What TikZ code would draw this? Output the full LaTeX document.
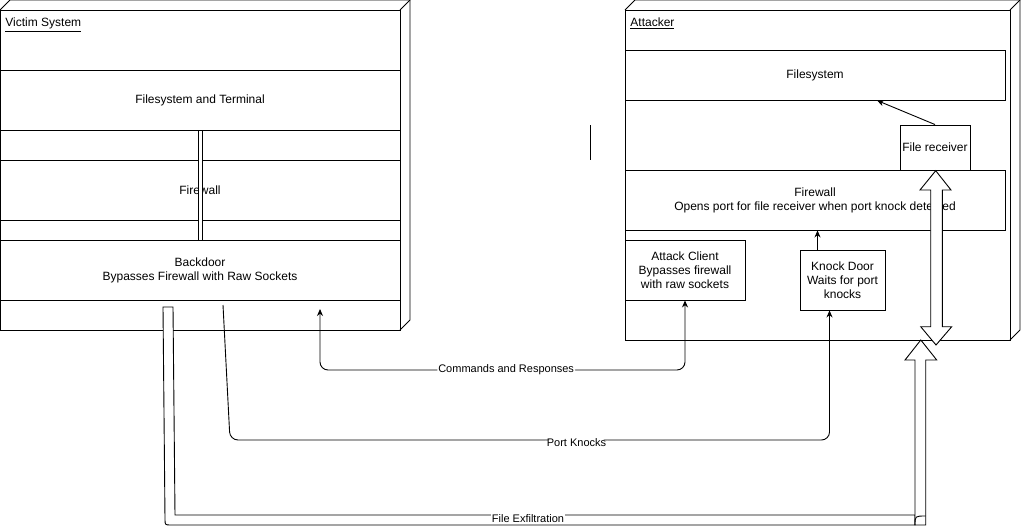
\documentclass[tikz,border=0pt]{standalone}
\usepackage{fontspec}
\setmainfont{Liberation Sans}
\usetikzlibrary{positioning, arrows.meta}

\begin{document}
\begin{tikzpicture}[x=1pt, y=-1pt, line width=0.9pt,
    font=\fontsize{12}{14}\selectfont,
    cell/.style={draw, minimum width=400pt, inner sep=0pt, align=center},
    acell/.style={draw, minimum width=380pt, inner sep=0pt, align=center},
    part/.style={draw, inner sep=0pt, align=center},
    arr/.style={-{Stealth[length=7pt,width=6pt]}, rounded corners=8pt},
    lbl/.style={fill=white, inner sep=1pt, font=\fontsize{11}{13}\selectfont}]
    \useasboundingbox (0,0) rectangle (1030,527);
    % victim system
    \draw (0,10) -- (10,0) -- (410,0) -- (410,320) -- (400,330);
    \draw (400,10) -- (410,0);
    \node[draw, minimum width=400pt, minimum height=320pt, anchor=north west] (victim) at (0,10) {};
    \node[anchor=base west, inner sep=0pt] (vtitle) at (5,27) {\underline{Victim System}};
    \node[cell, minimum height=60pt] (vfs) at (200,100) {Filesystem and Terminal};
    \node[cell, minimum height=30pt] (vgapa) at (200,145) {};
    \node[cell, minimum height=60pt] (vfw) at (200,190) {Firewall};
    \node[cell, minimum height=20pt] (vgapb) at (200,230) {};
    \node[cell, minimum height=60pt] (vbd) at (200,270) {Backdoor\\Bypasses Firewall with Raw Sockets};
    \draw[fill=white] (198,130) rectangle (202,240);
    % attacker
    \draw (625,10) -- (635,0) -- (1020,0) -- (1020,330) -- (1010,340);
    \draw (1010,10) -- (1020,0);
    \node[draw, minimum width=385pt, minimum height=330pt, anchor=north west] (attacker) at (625,10) {};
    \node[anchor=base west, inner sep=0pt] (atitle) at (630,27) {\underline{Attacker}};
    \node[acell, minimum height=50pt] (afs) at (815,75) {Filesystem};
    \node[part, minimum width=70pt, minimum height=45pt] (frecv) at (935,147.5) {File receiver};
    \node[acell, minimum height=60pt] (afw) at (815,200) {Firewall\\Opens port for file receiver when port knock detected};
    \node[part, minimum width=120pt, minimum height=60pt] (aclient) at (685,270) {Attack Client\\Bypasses firewall\\with raw sockets};
    \node[part, minimum width=85pt, minimum height=60pt] (knock) at (842.5,280) {Knock Door\\Waits for port\\knocks};
    \draw[arr] (frecv.north) -- ([xshift=62pt]afs.south);
    \draw[arr] ([xshift=-25pt]knock.north) -- ([xshift=-25pt]knock.north |- afw.south);
    \draw (590,125) -- (590,160);
    % receiver port
    \draw[fill=white] (935.7,170.7) -- (951,190) -- (942.3,190) -- (942.3,326.7) -- (951.7,326.7) -- (936,345)
        -- (920.7,326.7) -- (930.7,326.7) -- (930.7,190) -- (920,190) -- cycle;
    % links
    \coordinate (cmdend) at (320,309);
    \coordinate (knockstart) at (223,305);
    \coordinate (knockend) at ([xshift=-13pt]knock.south);
    \draw[arr, {Stealth[length=7pt,width=6pt]}-{Stealth[length=7pt,width=6pt]}] (cmdend) -- (cmdend |- 0,370)
        -- node[lbl, pos=0.51] (cmdlbl) {Commands and Responses} (aclient.south |- 0,370) -- (aclient.south);
    \draw[arr] (knockstart) -- (230,440) -- node[lbl, pos=0.578, yshift=-3pt] (knocklbl) {Port Knocks} (knockend |- 0,440) -- (knockend);
    \draw[fill=white] (173,307) -- (163,307) -- (165,519) .. controls (165,525) .. (171,525) -- (915,525) -- (915,515) -- (175,515) -- cycle;
    \draw[fill=white] (915,525) -- (915,360) -- (905,360) -- (920.8,340) -- (936.7,360) -- (925.7,360) -- (925.7,525) -- cycle;
    \draw (915,525) .. controls (915,516) .. (925.7,516);
    \node[lbl] (exfillbl) at (528,519) {File Exfiltration};
\end{tikzpicture}
\end{document}
